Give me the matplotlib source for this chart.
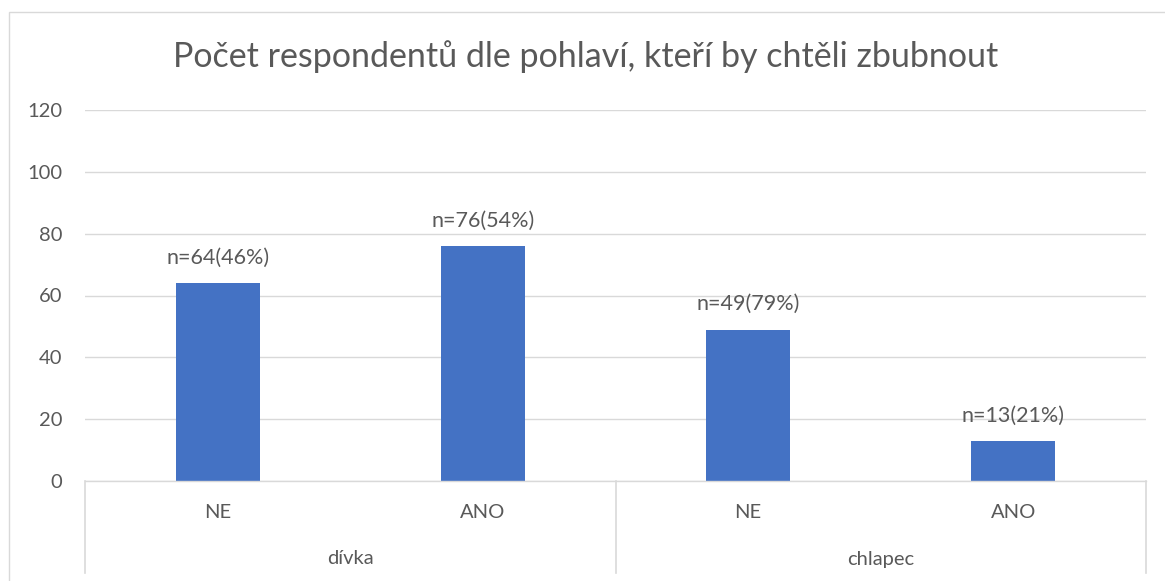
import matplotlib
matplotlib.use("Agg")
import matplotlib.pyplot as plt
from matplotlib.patches import Rectangle
from matplotlib.lines import Line2D

# Data
groups = ["dívka", "chlapec"]
answers = ["NE", "ANO", "NE", "ANO"]
counts = [64, 76, 49, 13]
percents = [46, 54, 79, 21]
yticks = [0, 20, 40, 60, 80, 100, 120]
title = "Počet respondentů dle pohlaví, kteří by chtěli zbubnout"

W, H = 1165, 581
plt.rcParams["font.family"] = ["Lato", "DejaVu Sans"]
TXT = "#595959"
GRID = "#D9D9D9"
BAR = "#4472C4"

fig = plt.figure(figsize=(W / 100, H / 100), dpi=100)


def fx(px):
    return px / W


def fy(py):
    return 1 - py / H


# chart frame
fig.patches.append(Rectangle((fx(8.5), fy(700)), fx(1300), (700 - 12) / H,
                             transform=fig.transFigure, fill=False,
                             edgecolor=GRID, linewidth=1.0))

left, right, top, bottom = 85, 1146, 110, 481
ax = fig.add_axes([fx(left), fy(bottom), fx(right - left), (bottom - top) / H])
ax.set_xlim(-0.5, len(counts) - 0.5)
ax.set_ylim(0, 120)
for s in ax.spines.values():
    s.set_visible(False)
ax.set_yticks(yticks)
ax.yaxis.grid(True, color=GRID, linewidth=1.0)
ax.set_axisbelow(True)
ax.tick_params(axis="y", length=0, pad=16.5, labelsize=14.5, labelcolor=TXT)
ax.set_xticks([])

x = list(range(len(counts)))
bars = ax.bar(x, counts, width=0.317, color=BAR, zorder=3)
for b, c, p in zip(bars, counts, percents):
    ax.annotate(f"n={c}({p}%)", (b.get_x() + b.get_width() / 2, c),
                xytext=(0, 11), textcoords="offset points",
                ha="center", va="bottom", fontsize=15.5, color=TXT)

# two-level category axis
fig.add_artist(Line2D([fx(left), fx(right)], [fy(bottom), fy(bottom)],
                      color=GRID, linewidth=1.0))
for px in (left, 615.5, right):
    fig.add_artist(Line2D([fx(px), fx(px)], [fy(bottom), fy(573)],
                          color=GRID, linewidth=1.2))
cat_w = (right - left) / len(counts)
for i, a in enumerate(answers):
    fig.text(fx(left + cat_w * (i + 0.5)), fy(513), a, ha="center", va="center",
             fontsize=14.5, color=TXT)
for j, g in enumerate(groups):
    fig.text(fx(left + cat_w * (2 * j + 1)), fy(559), g, ha="center", va="center",
             fontsize=14.5, color=TXT)

fig.text(fx(586), fy(57), title, ha="center", va="center", fontsize=24.5, color=TXT)

fig.savefig("out.png", dpi=100)
